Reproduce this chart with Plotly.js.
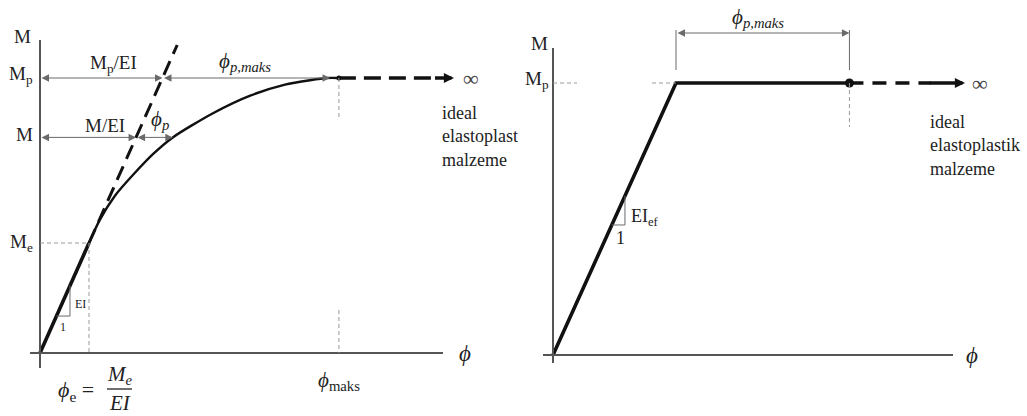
<!DOCTYPE html>
<html><head><meta charset="utf-8">
<script src="https://cdn.plot.ly/plotly-3.0.1.min.js"></script>
<style>html,body{margin:0;padding:0;background:#fff}#chart{width:1027px;height:416px}</style>
</head><body><div id="chart"></div>
<script>
// ---- Left: real section, moment-curvature (units: phi_e = 1, M_e = 1) ----
const elasticPhi = [0, 1.0];
const elasticM = [0, 1.0];
const yieldCurvePhi = [1.0, 1.22, 1.53, 1.90, 2.31, 2.71, 3.53, 4.29, 5.00, 5.51, 5.86, 6.10];
const yieldCurveM   = [1.0, 1.21, 1.43, 1.62, 1.81, 1.96, 2.18, 2.34, 2.44, 2.48, 2.50, 2.50];
const elasticExtPhi = [1.0, 2.80];          // EI line continued past M_e
const momentLevels = [1.0, 1.96, 2.50];     // M_e, M, M_p
const momentLabels = ['M<sub>e</sub>', 'M', 'M<sub>p</sub>'];
const phiAtM = 2.71;                         // curve crosses M here
const phiPlateauLeft = 5.92;                 // end of phi_p,maks span
const phiMaksLeft = 6.10;
const phiInfLeft = 8.45;

// ---- Right: ideal elastoplastic (units: phi_y = 1, M_p = 1) ----
const epPhi = [0, 1.0, 2.41];
const epM = [0, 1.0, 1.0];
const phiMaksRight = 2.41;
const phiInfRight = 3.35;

// pixel calibration of the two panels (origin px, px per unit)
const W = 1027, H = 416;
const Lc = {ox: 40, oy: 353, sx: 49, sy: 110};
const Rc = {ox: 553, oy: 355, sx: 123, sy: 272};
const Lx = p => (p - Lc.ox) / Lc.sx, Ly = p => (Lc.oy - p) / Lc.sy;
const Rx = p => (p - Rc.ox) / Rc.sx, Ry = p => (Rc.oy - p) / Rc.sy;

const EI = elasticM[1] / elasticPhi[1];
const [mE, mM, mP] = momentLevels;
const mPR = epM[1];
const phiYR = epPhi[1];

const INK = '#111';
const AX = '#555';
const THIN = '#6a6a6a';
const GUIDE = '#9a9a9a';
const FONT = 'Liberation Serif, DejaVu Serif, serif';

const traces = [
  // left panel
  {x: elasticPhi, y: elasticM, xaxis: 'x', yaxis: 'y', mode: 'lines',
   line: {color: INK, width: 3.6}},
  {x: yieldCurvePhi, y: yieldCurveM, xaxis: 'x', yaxis: 'y', mode: 'lines',
   line: {color: INK, width: 2.4, shape: 'spline', smoothing: 0.7}},
  {x: elasticExtPhi, y: elasticExtPhi.map(p => p * EI), xaxis: 'x', yaxis: 'y', mode: 'lines',
   line: {color: INK, width: 3, dash: '15px,8px'}},
  {x: [phiMaksLeft, phiInfLeft - 0.45], y: [mP, mP], xaxis: 'x', yaxis: 'y', mode: 'lines',
   line: {color: INK, width: 3.4, dash: '17px,8px'}},
  {x: [phiMaksLeft], y: [mP], xaxis: 'x', yaxis: 'y', mode: 'markers',
   marker: {color: INK, size: 5}},
  // right panel
  {x: epPhi, y: epM, xaxis: 'x2', yaxis: 'y2', mode: 'lines',
   line: {color: INK, width: 3.6}},
  {x: [phiMaksRight, phiInfRight - 0.28], y: [mPR, mPR], xaxis: 'x2', yaxis: 'y2', mode: 'lines',
   line: {color: INK, width: 3.4, dash: '14px,9px'}},
  {x: [phiMaksRight], y: [mPR], xaxis: 'x2', yaxis: 'y2', mode: 'markers',
   marker: {color: INK, size: 9}}
];

function seg(xref, yref, x0, y0, x1, y1, color, width, dash) {
  return {type: 'line', xref, yref, x0, y0, x1, y1,
          line: {color, width, dash: dash || 'solid'}};
}

const shapes = [
  // axes
  seg('x', 'y', Lx(30), 0, Lx(443), 0, AX, 2),
  seg('x', 'y', 0, Ly(368), 0, Ly(40), AX, 2),
  seg('x2', 'y2', Rx(543), 0, Rx(953), 0, AX, 2),
  seg('x2', 'y2', 0, Ry(363), 0, Ry(48), AX, 2),
  // left guides
  seg('x', 'y', 0, mE, elasticPhi[1], mE, GUIDE, 1, '4px,3px'),
  seg('x', 'y', elasticPhi[1], mE, elasticPhi[1], 0, GUIDE, 1, '4px,3px'),
  seg('x', 'y', phiMaksLeft, mP, phiMaksLeft, Ly(120), GUIDE, 1, '4px,3px'),
  seg('x', 'y', phiMaksLeft, Ly(310), phiMaksLeft, 0, GUIDE, 1, '4px,3px'),
  // left EI slope triangle
  seg('x', 'y', 0.612, 0.612 * EI, 0.612, 0.336, THIN, 1),
  seg('x', 'y', 0.336 / EI, 0.336, 0.612, 0.336, THIN, 1),
  // fraction bar of phi_e = M_e / EI
  seg('x', 'y', Lx(107), Ly(389), Lx(132), Ly(389), '#222', 1.3),
  // right guides
  seg('x2', 'y2', 0, mPR, Rx(577), mPR, GUIDE, 1, '4px,3px'),
  seg('x2', 'y2', Rx(652), mPR, phiYR, mPR, GUIDE, 1, '4px,3px'),
  seg('x2', 'y2', phiMaksRight, mPR, phiMaksRight, Ry(127), GUIDE, 1, '4px,3px'),
  seg('x2', 'y2', phiYR, Ry(30), phiYR, Ry(70), THIN, 1),
  seg('x2', 'y2', phiMaksRight, Ry(30), phiMaksRight, Ry(70), THIN, 1),
  // right EI_ef slope triangle
  seg('x2', 'y2', 0.585, 0.585 * mPR / phiYR, 0.585, 0.478, THIN, 1),
  seg('x2', 'y2', 0.478 * phiYR / mPR, 0.478, 0.585, 0.478, THIN, 1)
];

function arrow(xref, yref, x0, x1, y, both) {
  return {xref, yref, axref: xref, ayref: yref, x: x1, y, ax: x0, ay: y, text: '',
          showarrow: true, arrowhead: 2, startarrowhead: 2, arrowsize: 1.5, startarrowsize: 1.5,
          arrowwidth: 1, arrowcolor: THIN, arrowside: both ? 'end+start' : 'end',
          standoff: 0, startstandoff: 0};
}
function label(xref, yref, x, y, text, size, opts) {
  return Object.assign({xref, yref, x, y, text, showarrow: false,
    font: {family: FONT, size, color: '#222'}, xanchor: 'center', yanchor: 'middle'}, opts || {});
}

const annotations = [
  // left dimension arrows
  arrow('x', 'y', 0, mP / EI, mP, true),
  arrow('x', 'y', mP / EI, phiPlateauLeft, mP, true),
  arrow('x', 'y', 0, mM / EI, mM, true),
  arrow('x', 'y', mM / EI, phiAtM, mM, true),
  // left infinity arrow head
  {xref: 'x', yref: 'y', axref: 'x', ayref: 'y', x: phiInfLeft, y: mP, ax: phiInfLeft - 0.42, ay: mP,
   text: '', showarrow: true, arrowhead: 2, arrowsize: 0.6, arrowwidth: 3.4, arrowcolor: INK, standoff: 0},
  // right dimension arrow
  arrow('x2', 'y2', phiYR, phiMaksRight, Ry(33), true),
  // right infinity arrow head
  {xref: 'x2', yref: 'y2', axref: 'x2', ayref: 'y2', x: phiInfRight, y: mPR, ax: phiInfRight - 0.3, ay: mPR,
   text: '', showarrow: true, arrowhead: 2, arrowsize: 0.6, arrowwidth: 3.4, arrowcolor: INK, standoff: 0},

  // left labels
  label('x', 'y', Lx(33), Ly(36), 'M', 19, {xanchor: 'right'}),
  ...momentLevels.map((m, i) => label('x', 'y', Lx(35), m + (i === 0 ? 0 : 0.03), momentLabels[i], 19, {xanchor: 'right'})),
  label('x', 'y', Lx(113), Ly(64), 'M<sub>p</sub>/EI', 19),
  label('x', 'y', Lx(105), Ly(125), 'M/EI', 19),
  label('x', 'y', Lx(160), Ly(120), '<i>ϕ<sub>p</sub></i>', 21),
  label('x', 'y', Lx(245), Ly(62), '<i>ϕ<sub>p,maks</sub></i>', 21),
  label('x', 'y', Lx(440), Ly(101), 'ideal<br>elastoplast<br>malzeme', 18, {xanchor: 'left', yanchor: 'top', align: 'left'}),
  label('x', 'y', phiInfLeft + 0.35, mP, '∞', 22, {font: {family: FONT, size: 22, color: '#444'}}),
  label('x', 'y', Lx(73), Ly(304), 'EI', 12, {xanchor: 'left'}),
  label('x', 'y', Lx(63), Ly(327), '1', 12),
  label('x', 'y', Lx(56), Ly(391), '<i>ϕ</i><sub>e</sub> =', 22, {xanchor: 'left'}),
  label('x', 'y', Lx(120), Ly(375), '<i>M<sub>e</sub></i>', 21),
  label('x', 'y', Lx(120), Ly(403), '<i>EI</i>', 21),
  label('x', 'y', phiMaksLeft, Ly(381), '<i>ϕ</i><sub>maks</sub>', 21),
  label('x', 'y', Lx(465), 0, '<i>ϕ</i>', 23),

  // right labels
  label('x2', 'y2', Rx(550), Ry(43), 'M', 19, {xanchor: 'right'}),
  label('x2', 'y2', Rx(551), mPR + 0.01, 'M<sub>p</sub>', 19, {xanchor: 'right'}),
  label('x2', 'y2', Rx(758), Ry(18), '<i>ϕ<sub>p,maks</sub></i>', 21),
  label('x2', 'y2', Rx(928), Ry(110), 'ideal<br>elastoplastik<br>malzeme', 18, {xanchor: 'left', yanchor: 'top', align: 'left'}),
  label('x2', 'y2', phiInfRight + 0.12, mPR, '∞', 22, {font: {family: FONT, size: 22, color: '#444'}}),
  label('x2', 'y2', Rx(629), Ry(217), 'EI<sub>ef</sub>', 18, {xanchor: 'left'}),
  label('x2', 'y2', Rx(620), Ry(238), '1', 18),
  label('x2', 'y2', Rx(972), 0, '<i>ϕ</i>', 23)
];

const hidden = {visible: false, fixedrange: true};
const layout = {
  width: W, height: H,
  margin: {l: 0, r: 0, t: 0, b: 0},
  paper_bgcolor: '#fff', plot_bgcolor: '#fff',
  showlegend: false,
  xaxis: Object.assign({domain: [0, 0.5], range: [Lx(0), Lx(W / 2)], anchor: 'y'}, hidden),
  yaxis: Object.assign({domain: [0, 1], range: [Ly(H), Ly(0)], anchor: 'x'}, hidden),
  xaxis2: Object.assign({domain: [0.5, 1], range: [Rx(W / 2), Rx(W)], anchor: 'y2'}, hidden),
  yaxis2: Object.assign({domain: [0, 1], range: [Ry(H), Ry(0)], anchor: 'x2'}, hidden),
  shapes, annotations
};

Plotly.newPlot('chart', traces, layout, {staticPlot: true, displayModeBar: false});
</script>
</body></html>
